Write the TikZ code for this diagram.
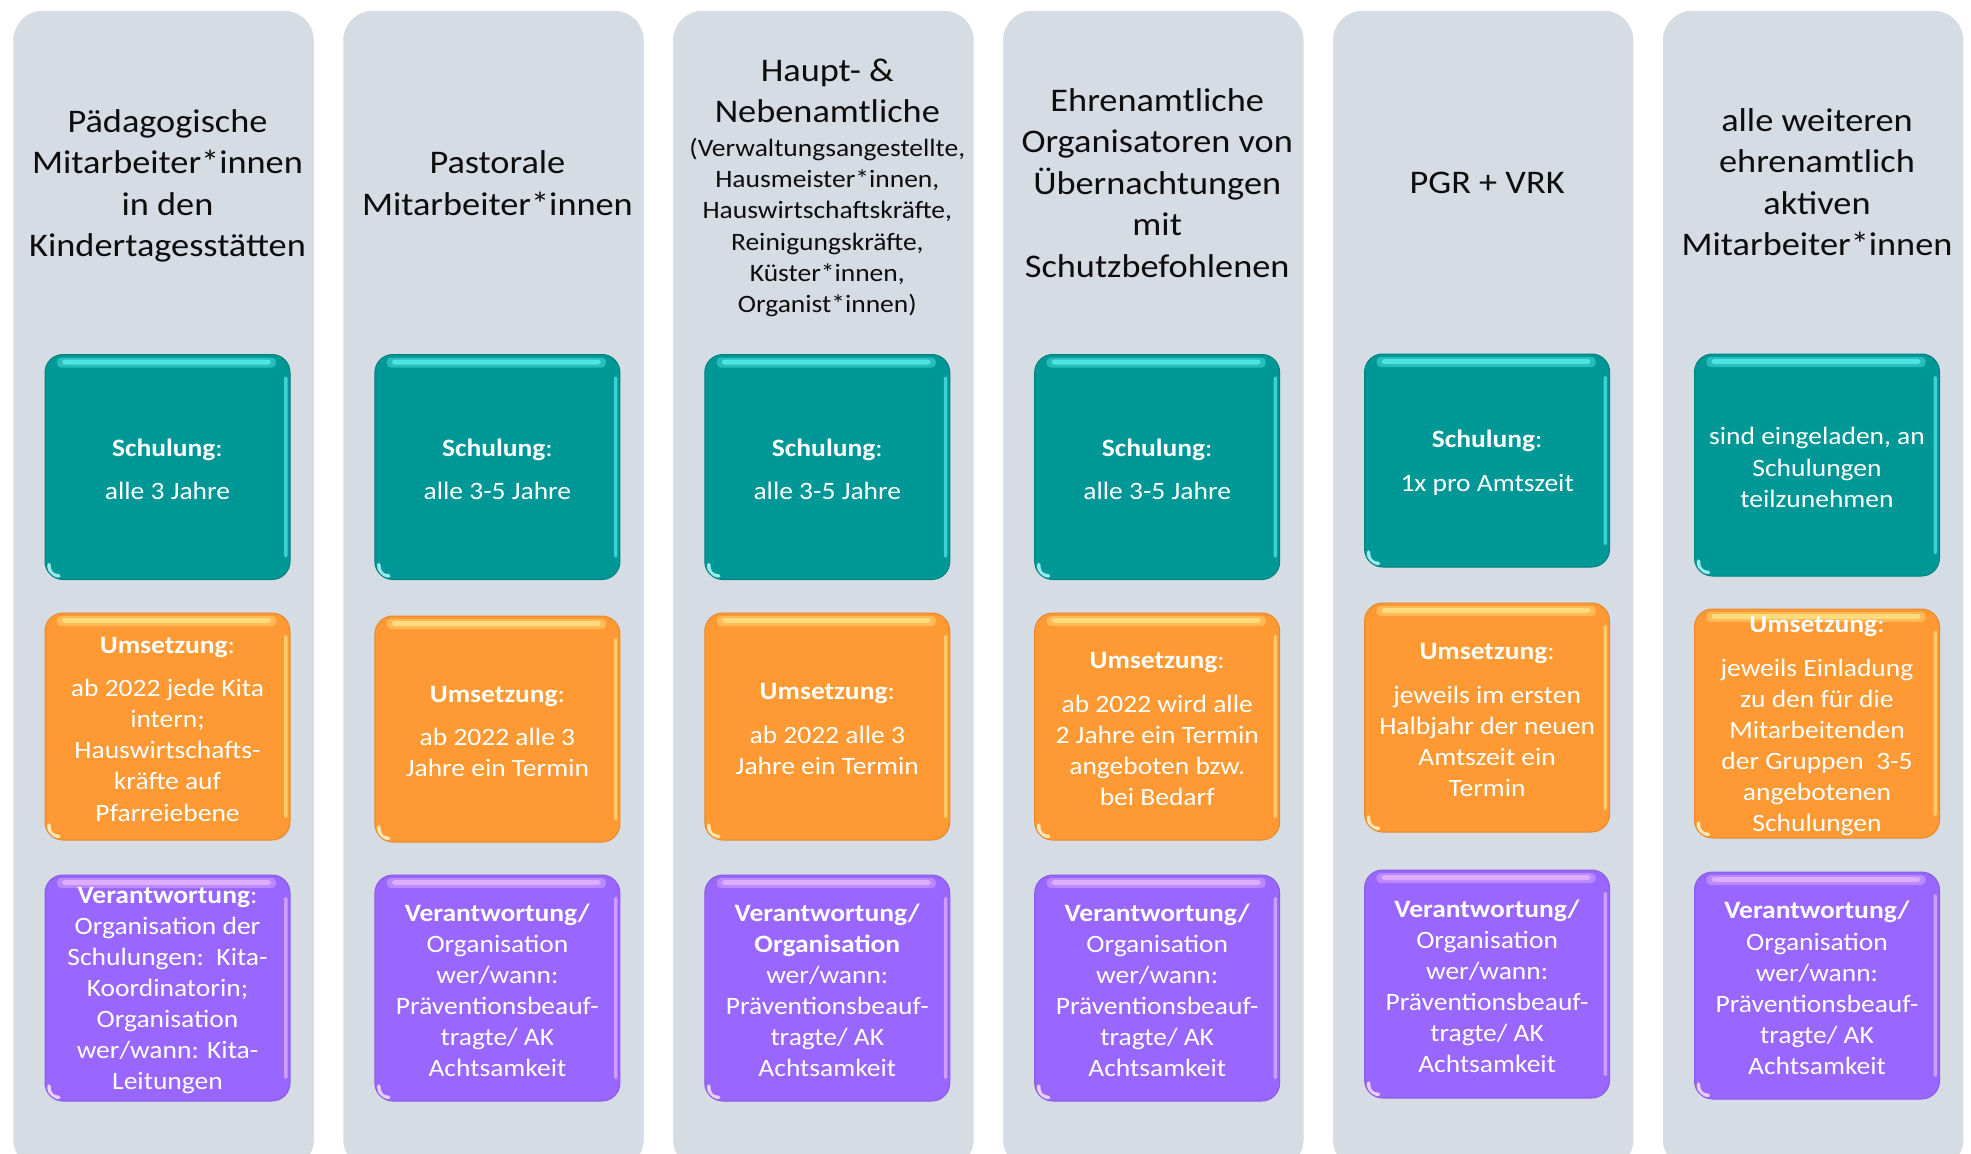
\documentclass[tikz,border=0pt]{standalone}
\usepackage{fontspec}
\setmainfont{Carlito}[FakeStretch=1.1]
\definecolor{colbg}{RGB}{213,220,228}
\definecolor{tealc}{RGB}{0,152,150}
\definecolor{tealhi}{RGB}{85,235,235}
\definecolor{orangec}{RGB}{255,153,51}
\definecolor{orangehi}{RGB}{255,225,130}
\definecolor{purplec}{RGB}{153,102,255}
\definecolor{purplehi}{RGB}{230,180,255}
\definecolor{hdtext}{RGB}{13,13,13}
\newcommand\hdsize{\fontsize{33}{41.5}\selectfont}
\newcommand\bxsize{\fontsize{25}{31.1}\selectfont}
\tikzset{
  colbox/.style={draw=white, line width=1.5pt, fill=colbg, rounded corners=30pt,
    minimum width=302pt, minimum height=1160pt, inner sep=0pt},
  header/.style={align=center, text=hdtext, font=\hdsize, inner sep=0pt},
  subheader/.style={align=center, text=hdtext, font=\bxsize, inner sep=0pt},
  gloss/.style={path picture={
    \fill[#1, opacity=0.45, rounded corners=4pt]
      ([xshift=12pt,yshift=-3pt]path picture bounding box.north west) rectangle
      ([xshift=-14pt,yshift=-13pt]path picture bounding box.north east);
    \fill[#1, opacity=0.85, rounded corners=3pt]
      ([xshift=17pt,yshift=-5pt]path picture bounding box.north west) rectangle
      ([xshift=-19pt,yshift=-10pt]path picture bounding box.north east);
    \fill[#1, opacity=0.7, rounded corners=2pt]
      ([xshift=-6pt,yshift=-22pt]path picture bounding box.north east) rectangle
      ([xshift=-2.5pt,yshift=22pt]path picture bounding box.south east);
    \draw[#1!50!white, line width=3.5pt, line cap=round, opacity=0.9]
      ([xshift=4pt,yshift=15pt]path picture bounding box.south west) .. controls
      ([xshift=4pt,yshift=7pt]path picture bounding box.south west) and
      ([xshift=7pt,yshift=4pt]path picture bounding box.south west) ..
      ([xshift=14pt,yshift=3.5pt]path picture bounding box.south west);
  }},
  card/.style={rounded corners=18pt, minimum width=245pt, inner sep=0pt, line width=1pt},
  cardtext/.style={text=white, align=center, font=\bxsize, inner sep=0pt},
  tcard/.style={card, fill=tealc, draw=tealc!85!black, gloss=tealhi},
  ocard/.style={card, fill=orangec, draw=orangec!90!black, gloss=orangehi},
  pcard/.style={card, fill=purplec, draw=purplec!90!black, gloss=purplehi}
}
% style, height, name, position, text
\newcommand\mycard[5]{%
  \node[#1, minimum height=#2pt] (#3) at #4 {};
  \node[cardtext] (#3txt) at ([yshift=-2.5pt]#3.center) {#5};
}
\begin{document}
\begin{tikzpicture}[x=1pt,y=-1pt]
\useasboundingbox (0,0) rectangle (1971,1154);
\fill[white] (0,0) rectangle (1971,1154);
\clip (0,0) rectangle (1971,1154);

% columns
\foreach \i in {1,...,6} {
  \node[colbox] (col\i) at ({163.6+329.9*(\i-1)},590) {};
}

% headers
\node[header] (h1) at (167.5,186) {Pädagogische\\Mitarbeiter*innen\\in den\\Kindertagesstätten};
\node[header] (h2) at (497.4,183) {Pastorale\\Mitarbeiter*innen};
\node[header] (h3a) at (827.3,91) {Haupt- \&\\Nebenamtliche};
\node[subheader] (h3b) at (827.3,227.5) {(Verwaltungsangestellte,\\Hausmeister*innen,\\Hauswirtschaftskräfte,\\Reinigungskräfte,\\Küster*innen,\\Organist*innen)};
\node[header] (h4) at (1157.2,183) {Ehrenamtliche\\Organisatoren von\\Übernachtungen\\mit\\Schutzbefohlenen};
\node[header] (h5) at (1487.1,183) {PGR + VRK};
\node[header] (h6) at (1817.0,182) {alle weiteren\\ehrenamtlich\\aktiven\\Mitarbeiter*innen};

% column 1
\mycard{tcard}{225}{t1}{(167.5,467)}{\textbf{Schulung}:\\[12.5pt]alle 3 Jahre}
\mycard{ocard}{227}{o1}{(167.5,726.5)}{\textbf{Umsetzung}:\\[12.5pt]ab 2022 jede Kita\\intern;\\Hauswirtschafts-\\kräfte auf\\Pfarreiebene}
\mycard{pcard}{226}{p1}{(167.5,988)}{\textbf{Verantwortung}:\\Organisation der\\Schulungen:\enspace Kita-\\Koordinatorin;\\Organisation\\wer/wann: Kita-\\Leitungen}

% column 2
\mycard{tcard}{225}{t2}{(497.4,467)}{\textbf{Schulung}:\\[12.5pt]alle 3-5 Jahre}
\mycard{ocard}{226}{o2}{(497.4,729)}{\textbf{Umsetzung}:\\[12.5pt]ab 2022 alle 3\\Jahre ein Termin}
\mycard{pcard}{226}{p2}{(497.4,988)}{\textbf{Verantwortung/}\\Organisation\\wer/wann:\\Präventionsbeauf-\\tragte/ AK\\Achtsamkeit}

% column 3
\mycard{tcard}{225}{t3}{(827.3,467)}{\textbf{Schulung}:\\[12.5pt]alle 3-5 Jahre}
\mycard{ocard}{227}{o3}{(827.3,726.5)}{\textbf{Umsetzung}:\\[12.5pt]ab 2022 alle 3\\Jahre ein Termin}
\mycard{pcard}{226}{p3}{(827.3,988)}{\textbf{Verantwortung/}\\\textbf{Organisation}\\wer/wann:\\Präventionsbeauf-\\tragte/ AK\\Achtsamkeit}

% column 4
\mycard{tcard}{225}{t4}{(1157.2,467)}{\textbf{Schulung}:\\[12.5pt]alle 3-5 Jahre}
\mycard{ocard}{227}{o4}{(1157.2,726.5)}{\textbf{Umsetzung}:\\[12.5pt]ab 2022 wird alle\\2 Jahre ein Termin\\angeboten bzw.\\bei Bedarf}
\mycard{pcard}{226}{p4}{(1157.2,988)}{\textbf{Verantwortung/}\\Organisation\\wer/wann:\\Präventionsbeauf-\\tragte/ AK\\Achtsamkeit}

% column 5
\mycard{tcard}{213}{t5}{(1487.1,460.5)}{\textbf{Schulung}:\\[12.5pt]1x pro Amtszeit}
\mycard{ocard}{229}{o5}{(1487.1,717.5)}{\textbf{Umsetzung}:\\[12.5pt]jeweils im ersten\\Halbjahr der neuen\\Amtszeit ein\\Termin}
\mycard{pcard}{228}{p5}{(1487.1,984)}{\textbf{Verantwortung/}\\Organisation\\wer/wann:\\Präventionsbeauf-\\tragte/ AK\\Achtsamkeit}

% column 6
\mycard{tcard}{222}{t6}{(1817.0,465)}{sind eingeladen, an\\Schulungen\\teilzunehmen}
\mycard{ocard}{229}{o6}{(1817.0,723.5)}{\textbf{Umsetzung}:\\[12.5pt]jeweils Einladung\\zu den für die\\Mitarbeitenden\\der Gruppen\enspace 3-5\\angebotenen\\Schulungen}
\mycard{pcard}{227}{p6}{(1817.0,985.5)}{\textbf{Verantwortung/}\\Organisation\\wer/wann:\\Präventionsbeauf-\\tragte/ AK\\Achtsamkeit}
\end{tikzpicture}
\end{document}
